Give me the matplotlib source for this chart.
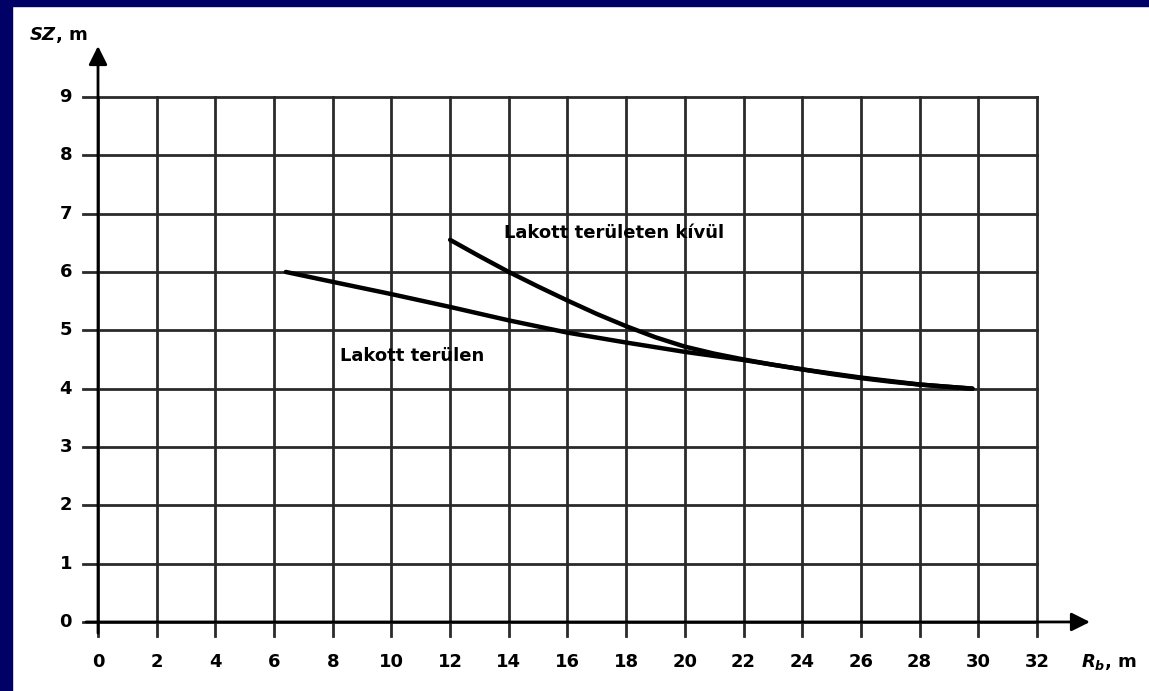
import matplotlib
matplotlib.use("Agg")
import matplotlib.pyplot as plt
from matplotlib.patches import Rectangle

plt.rcParams['font.family'] = ['DejaVu Sans']
plt.rcParams['mathtext.fontset'] = 'custom'
plt.rcParams['mathtext.it'] = 'DejaVu Sans:italic:bold'
plt.rcParams['mathtext.rm'] = 'DejaVu Sans:bold'

# data
x_ticks = list(range(0, 33, 2))
y_ticks = list(range(0, 10))

x_lakott = [6.4, 8, 10, 12, 14, 16, 18, 20, 22, 24, 26, 28, 29.8]
y_lakott = [6.0, 5.83, 5.62, 5.4, 5.17, 4.96, 4.79, 4.63, 4.49, 4.33, 4.19, 4.07, 4.0]

x_kivul = [12, 13, 14, 15, 16, 17, 18, 19, 20, 21, 22, 23, 24, 25, 26, 27, 28, 29, 29.8]
y_kivul = [6.55, 6.27, 6.0, 5.75, 5.51, 5.28, 5.07, 4.88, 4.72, 4.60, 4.50, 4.41,
           4.33, 4.25, 4.18, 4.12, 4.07, 4.03, 4.0]

label_lakott = "Lakott terülen"
label_kivul = "Lakott területen kívül"

fig = plt.figure(figsize=(11.49, 6.91), dpi=100)
fig.patch.set_facecolor("white")
# slide background strips
navy = "#000066"
fig.patches.append(Rectangle((0, 0), 12 / 1149, 1, transform=fig.transFigure, color=navy, zorder=0))
fig.patches.append(Rectangle((0, 1 - 6 / 691), 1, 6 / 691, transform=fig.transFigure, color=navy, zorder=0))

ax = fig.add_axes([0.0853, 0.0999, 0.8172, 0.7598])
ax.set_xlim(0, 32)
ax.set_ylim(0, 9)
ax.axis("off")

gc = "#2a2a2a"
for xv in x_ticks:
    ax.plot([xv, xv], [-0.24, 9], color=gc, lw=2, clip_on=False, zorder=1)
for yv in y_ticks:
    ax.plot([-0.5, 32], [yv, yv], color=gc, lw=2, clip_on=False, zorder=1)

# axes with arrows
ax.annotate("", xy=(0, 9.92), xytext=(0, -0.24),
            arrowprops=dict(arrowstyle="-|>", mutation_scale=28, lw=2, color="black"),
            annotation_clip=False)
ax.annotate("", xy=(33.9, 0), xytext=(-0.5, 0),
            arrowprops=dict(arrowstyle="-|>", mutation_scale=28, lw=2, color="black"),
            annotation_clip=False)

for xv in x_ticks:
    ax.text(xv, -0.69, str(xv), ha="center", va="center", fontsize=13,
            fontweight="bold", clip_on=False)
for yv in y_ticks:
    ax.text(-1.1, yv, str(yv), ha="center", va="center", fontsize=13,
            fontweight="bold", clip_on=False)

ax.text(-2.35, 10.07, "$SZ$, m", ha="left", va="center", fontsize=13,
        fontweight="bold", clip_on=False)
ax.text(33.5, -0.69, "$R_b$, m", ha="left", va="center", fontsize=13,
        fontweight="bold", clip_on=False)

ax.plot(x_lakott, y_lakott, color="black", lw=3.2, solid_capstyle="round",
        solid_joinstyle="round", zorder=3)
ax.plot(x_kivul, y_kivul, color="black", lw=3.2, solid_capstyle="round",
        solid_joinstyle="round", zorder=3)

ax.text(13.85, 6.67, label_kivul, ha="left", va="center", fontsize=13,
        fontweight="bold")
ax.text(8.25, 4.56, label_lakott, ha="left", va="center", fontsize=13,
        fontweight="bold")

fig.savefig("out.png", dpi=100)
